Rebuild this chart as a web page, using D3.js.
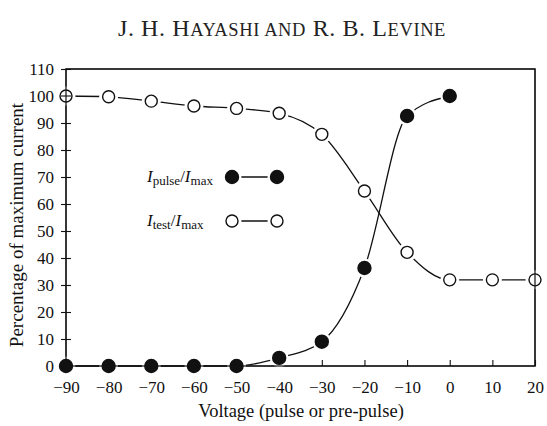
<!DOCTYPE html>
<html>
<head>
<meta charset="utf-8">
<script src="https://cdn.jsdelivr.net/npm/d3@7"></script>
<style>
  body { margin: 0; background: #fff; }
  svg { display: block; font-family: "Liberation Serif", "DejaVu Serif", serif; }
</style>
</head>
<body>
<svg width="547" height="426"></svg>
<script>
// data
var voltages = [-90, -80, -70, -60, -50, -40, -30, -20, -10, 0, 10, 20];
var pulseValues = [0, 0, 0, 0, 0, 3, 9, 36.3, 92.6, 100];
var testValues = [100, 99.7, 98.1, 96.3, 95.4, 93.6, 85.8, 64.8, 42.1, 31.9, 31.9, 31.9];
var xTicks = [-90, -80, -70, -60, -50, -40, -30, -20, -10, 0, 10, 20];
var yTicks = [0, 10, 20, 30, 40, 50, 60, 70, 80, 90, 100, 110];

var svg = d3.select('svg');
var padding = { t: 69, r: 12, b: 60, l: 66 };
var chartWidth = 547 - padding.l - padding.r;
var chartHeight = 426 - padding.t - padding.b;

var xScale = d3.scaleLinear().domain([-90, 20]).range([0, chartWidth]);
var yScale = d3.scaleLinear().domain([0, 110]).range([chartHeight, 0]);

var chartG = svg.append('g')
    .attr('transform', 'translate(' + [padding.l, padding.t] + ')');

// title (small caps done by hand)
var title = svg.append('text')
    .attr('x', 282).attr('y', 36)
    .attr('text-anchor', 'middle')
    .style('letter-spacing', '0.6px')
    .style('fill', '#222');
[['J. H. H', 24], ['AYASHI AND', 18.5], [' R. B. L', 24], ['EVINE', 18.5]].forEach(function(p) {
    title.append('tspan').style('font-size', p[1] + 'px').text(p[0]);
});

// frame
chartG.append('rect')
    .attr('width', chartWidth).attr('height', chartHeight)
    .attr('fill', 'none').attr('stroke', '#111').attr('stroke-width', 1.2);

// x axis ticks (inside)
var xAxis = chartG.append('g')
    .attr('transform', 'translate(0,' + chartHeight + ')')
    .call(d3.axisBottom(xScale).tickValues(xTicks).tickSizeInner(-6).tickSizeOuter(0)
        .tickPadding(15).tickFormat(function(d) { return d < 0 ? '\u2212' + (-d) : d; }));
xAxis.select('.domain').remove();
xAxis.selectAll('line').attr('stroke', '#111').attr('stroke-width', 1.1);
xAxis.selectAll('text').style('font-family', 'Liberation Serif').style('font-size', '17px').attr('fill', '#111');

// y axis ticks (crossing)
var yAxis = chartG.append('g')
    .call(d3.axisLeft(yScale).tickValues(yTicks).tickSize(0).tickPadding(12));
yAxis.select('.domain').remove();
yAxis.selectAll('text').style('font-family', 'Liberation Serif').style('font-size', '17px').attr('fill', '#111');
yAxis.selectAll('.tick').append('line')
    .attr('x1', -5).attr('x2', 5).attr('stroke', '#111').attr('stroke-width', 1.1);

// axis labels
svg.append('text')
    .attr('x', 301).attr('y', 417)
    .attr('text-anchor', 'middle')
    .style('font-size', '18.5px').style('fill', '#111')
    .text('Voltage (pulse or pre-pulse)');
svg.append('text')
    .attr('transform', 'translate(23,225)rotate(-90)')
    .attr('text-anchor', 'middle')
    .style('font-size', '19px').style('fill', '#111')
    .text('Percentage of maximum current');

var pulse = pulseValues.map(function(v, i) { return { x: voltages[i], y: v }; });
var test = testValues.map(function(v, i) { return { x: voltages[i], y: v }; });

var line = d3.line()
    .x(function(d) { return xScale(d.x); })
    .y(function(d) { return yScale(d.y); })
    .curve(d3.curveMonotoneX);

[test, pulse].forEach(function(series) {
    chartG.append('path')
        .attr('d', line(series))
        .attr('fill', 'none').attr('stroke', '#111').attr('stroke-width', 1.3);
});

// white halos leave the small gap between curve and marker
chartG.selectAll('.halo').data(pulse.concat(test)).enter().append('circle')
    .attr('cx', function(d) { return xScale(d.x); })
    .attr('cy', function(d) { return yScale(d.y); })
    .attr('r', 9.5).attr('fill', '#fff');

// redraw frame edges over halos
chartG.append('rect')
    .attr('width', chartWidth).attr('height', chartHeight)
    .attr('fill', 'none').attr('stroke', '#111').attr('stroke-width', 1.2);
chartG.append('line').attr('x1', -5).attr('x2', 5)
    .attr('y1', yScale(100)).attr('y2', yScale(100))
    .attr('stroke', '#111').attr('stroke-width', 1.1);

chartG.selectAll('.mk').data(pulse.concat(test)).enter().append('circle')
    .attr('cx', function(d) { return xScale(d.x); })
    .attr('cy', function(d) { return yScale(d.y); })
    .attr('r', function(d, i) { return i < pulse.length ? 6.5 : 6; })
    .attr('fill', function(d, i) { return i < pulse.length ? '#111' : 'none'; })
    .attr('stroke', '#111').attr('stroke-width', 1.4);

// legend
var legend = [
    { sub: 'pulse', filled: true, y: 177 },
    { sub: 'test', filled: false, y: 221 }
];
legend.forEach(function(d) {
    var t = svg.append('text').attr('x', 147).attr('y', d.y + 5)
        .style('font-size', '17px').style('fill', '#111');
    t.append('tspan').style('font-style', 'italic').text('I');
    t.append('tspan').attr('dy', 3).style('font-size', '13px').text(d.sub);
    t.append('tspan').attr('dy', -3).text('/');
    t.append('tspan').style('font-style', 'italic').text('I');
    t.append('tspan').attr('dy', 3).style('font-size', '13px').text('max');
    svg.append('line').attr('x1', 232).attr('x2', 277).attr('y1', d.y).attr('y2', d.y)
        .attr('stroke', '#111').attr('stroke-width', 1.3);
    [232, 277].forEach(function(cx) {
        svg.append('circle').attr('cx', cx).attr('cy', d.y)
            .attr('r', 9.5).attr('fill', '#fff');
        svg.append('circle').attr('cx', cx).attr('cy', d.y)
            .attr('r', d.filled ? 6.5 : 6)
            .attr('fill', d.filled ? '#111' : '#fff')
            .attr('stroke', '#111').attr('stroke-width', 1.4);
    });
});
</script>
</body>
</html>
